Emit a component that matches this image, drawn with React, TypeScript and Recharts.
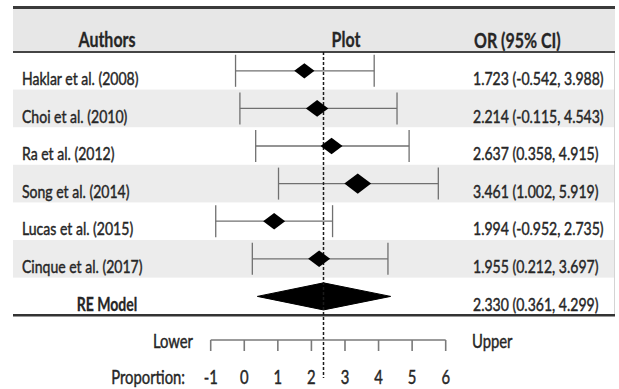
import React from "react";
import {
  ComposedChart,
  Scatter,
  Area,
  XAxis,
  YAxis,
  ErrorBar,
  ReferenceLine,
} from "recharts";

// table text
const authors = [
  "Haklar et al. (2008)",
  "Choi et al. (2010)",
  "Ra et al. (2012)",
  "Song et al. (2014)",
  "Lucas et al. (2015)",
  "Cinque et al. (2017)",
  "RE Model",
];
const orLabels = [
  "1.723 (-0.542, 3.988)",
  "2.214 (-0.115, 4.543)",
  "2.637 (0.358, 4.915)",
  "3.461 (1.002, 5.919)",
  "1.994 (-0.952, 2.735)",
  "1.955 (0.212, 3.697)",
  "2.330 (0.361, 4.299)",
];

// positions as drawn in the plot column
const estimates = [1.79, 2.17, 2.6, 3.38, 0.89, 2.23];
const lowerCI = [-0.26, -0.13, 0.34, 1.02, -0.85, 0.24];
const upperCI = [3.87, 4.55, 4.91, 5.78, 2.63, 4.28];
const weights = [0.92, 1.02, 1.0, 1.22, 1.0, 1.0];
const reModel = [0.39, 2.36, 4.36]; // lower, estimate, upper
const xTicks = [-1, 0, 1, 2, 3, 4, 5, 6];
const rowTicks = [1, 2, 3, 4, 5, 6, 7];

const W = 619;
const H = 389;
const LEFT_W = 210.7;
const RIGHT_W = 173.3;
const TOP = 52;
const ROW_H = 37.6;
const AXIS_Y = 340;
const yMax = 0.5 + (AXIS_Y - TOP) / ROW_H;
const SX = 0.78;
const INK = "#262626";
const FONT = "Lato, 'Open Sans', sans-serif";

const studies = estimates.map((x, i) => ({
  x,
  row: i + 1,
  w: weights[i],
  err: [x - lowerCI[i], upperCI[i] - x],
}));

const reRow = 7;
const reHalf = 0.36;
const reDiamond = [
  { x: reModel[0], band: [reRow, reRow] },
  { x: reModel[1], band: [reRow - reHalf, reRow + reHalf] },
  { x: reModel[2], band: [reRow, reRow] },
];

function SqText({
  x,
  y,
  anchor = "start",
  size = 18,
  bold = false,
  children,
}: {
  x: number;
  y: number;
  anchor?: "start" | "middle" | "end";
  size?: number;
  bold?: boolean;
  children: React.ReactNode;
}) {
  return (
    <text
      transform={`translate(${x},${y}) scale(${SX},1)`}
      textAnchor={anchor}
      dominantBaseline="central"
      fontFamily={FONT}
      fontSize={size}
      fontWeight={bold ? 700 : 400}
      fill={INK}
      stroke={INK}
      strokeWidth={bold ? 0.3 : 0.45}
    >
      {children}
    </text>
  );
}

function Diamond(p: any) {
  const w = 11 * (p.payload?.w ?? 1);
  const h = 8.3 * (p.payload?.w ?? 1);
  const { cx, cy } = p;
  return (
    <polygon
      points={`${cx - w},${cy} ${cx},${cy - h} ${cx + w},${cy} ${cx},${cy + h}`}
      fill="#000"
    />
  );
}

function AuthorTick(p: any) {
  const i = p.payload.value - 1;
  const re = i === authors.length - 1;
  return (
    <SqText x={re ? 107 : 22} y={p.y + 7} anchor={re ? "middle" : "start"} bold={re}>
      {authors[i]}
    </SqText>
  );
}

function OrTick(p: any) {
  const i = p.payload.value - 1;
  return (
    <SqText x={473} y={p.y + 7}>
      {orLabels[i]}
    </SqText>
  );
}

function PropTick(p: any) {
  return (
    <SqText x={p.x} y={p.y} anchor="middle" size={19}>
      {p.payload.value}
    </SqText>
  );
}

function Frame() {
  const bands = [2, 4, 6];
  return (
    <svg width={W} height={H} style={{ position: "absolute", left: 0, top: 0 }}>
      <rect x={13} y={8} width={602} height={44} fill="#e7e7e7" />
      {bands.map((r) => (
        <rect key={r} x={13} y={TOP + (r - 1) * ROW_H} width={602} height={ROW_H} fill="#ececec" />
      ))}
      <rect x={13} y={6} width={602} height={3} fill="#3a3a3a" />
      <rect x={13} y={51} width={602} height={2} fill="#444" />
      <rect x={13} y={314} width={602} height={2.5} fill="#333" />
      <rect x={614} y={53} width={1} height={261} fill="#d4d4d4" />
      <SqText x={107} y={39} anchor="middle" size={20.5} bold>
        Authors
      </SqText>
      <SqText x={346} y={39} anchor="middle" size={20.5} bold>
        Plot
      </SqText>
      <SqText x={474} y={40} size={20.5} bold>
        OR (95% CI)
      </SqText>
      <SqText x={193} y={341} anchor="end" size={19}>
        Lower
      </SqText>
      <SqText x={472} y={341} size={19}>
        Upper
      </SqText>
      <SqText x={185} y={377} anchor="end" size={19}>
        Proportion:
      </SqText>
    </svg>
  );
}

export default function App() {
  return (
    <div style={{ position: "relative", width: W, height: H, background: "#fff" }}>
      <style>{`body{margin:0}`}</style>
      <Frame />
      <div style={{ position: "absolute", left: 0, top: 0 }}>
        <ComposedChart
          width={W}
          height={H}
          margin={{ top: TOP, right: 0, bottom: 0, left: 0 }}
        >
          <XAxis
            dataKey="x"
            type="number"
            domain={[-1, 6]}
            ticks={xTicks}
            interval={0}
            height={H - AXIS_Y}
            tickSize={11}
            tickMargin={26}
            stroke="#7a7a7a"
            strokeWidth={1.6}
            tick={<PropTick />}
          />
          <YAxis
            yAxisId="l"
            dataKey="row"
            type="number"
            domain={[0.5, yMax]}
            reversed
            ticks={rowTicks}
            interval={0}
            width={LEFT_W}
            axisLine={false}
            tickLine={false}
            tick={<AuthorTick />}
          />
          <YAxis
            yAxisId="r"
            orientation="right"
            dataKey="row"
            type="number"
            domain={[0.5, yMax]}
            reversed
            ticks={rowTicks}
            interval={0}
            width={RIGHT_W}
            axisLine={false}
            tickLine={false}
            tick={<OrTick />}
          />
          <Scatter
            yAxisId="r"
            data={studies}
            fill="none"
            shape={() => null}
            isAnimationActive={false}
          />
          <Scatter
            yAxisId="l"
            data={studies}
            fill="#000"
            shape={<Diamond />}
            isAnimationActive={false}
          >
            <ErrorBar
              dataKey="err"
              direction="x"
              width={16}
              stroke="#707070"
              strokeWidth={1.3}
            />
          </Scatter>
          <Area
            yAxisId="l"
            data={reDiamond}
            dataKey="band"
            type="linear"
            stroke="#000"
            strokeWidth={1}
            fill="#000"
            fillOpacity={1}
            dot={false}
            activeDot={false}
            isAnimationActive={false}
          />
          <ReferenceLine
            yAxisId="l"
            segment={[
              { x: reModel[1], y: 0.5 },
              { x: reModel[1], y: 0.5 + (378 - TOP) / ROW_H },
            ]}
            ifOverflow="visible"
            stroke="#1a1a1a"
            strokeWidth={1.5}
            strokeDasharray="3 2"
          />
        </ComposedChart>
      </div>
    </div>
  );
}
